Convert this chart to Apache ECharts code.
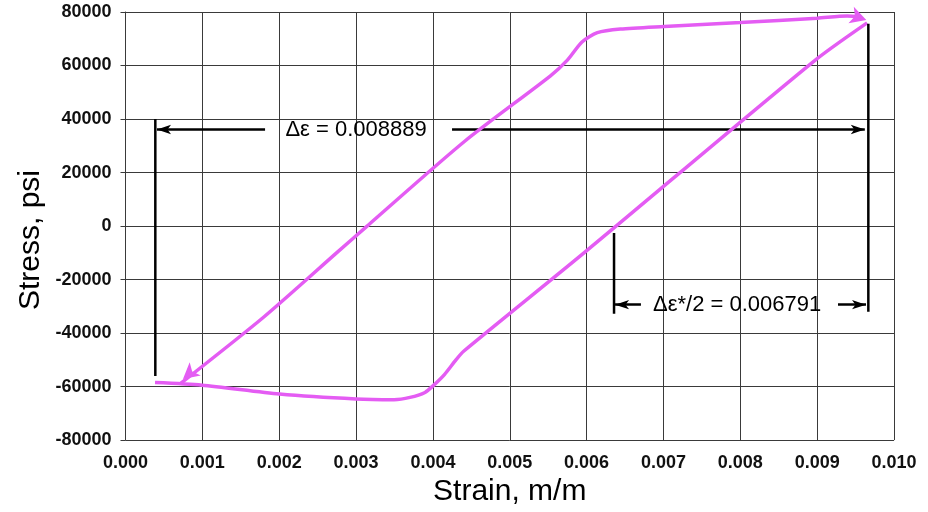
<!DOCTYPE html>
<html>
<head>
<meta charset="utf-8">
<script src="https://cdn.jsdelivr.net/npm/echarts@6/dist/echarts.min.js"></script>
<style>html,body{margin:0;padding:0;background:#fff}#c{width:928px;height:512px}</style>
</head>
<body>
<div id="c"></div>
<script>
// Loading branch: elastic line A + upper plateau
var strainUp = [0.00071, 0.00180, 0.00275, 0.00314, 0.00441, 0.00553, 0.00575, 0.00594, 0.00614, 0.00644, 0.00701, 0.00800, 0.00900, 0.00939, 0.00957];
var stressUp = [-59000, -34000, -9950, -100, 31600, 56150, 62000, 68800, 72260, 73620, 74580, 76050, 77680, 78520, 78270];
// Lower plateau + elastic line B
var strainDown = [0.000384, 0.000995, 0.002004, 0.003000, 0.003494, 0.003702, 0.003897, 0.004001, 0.00415, 0.00430, 0.00440, 0.00597, 0.00896, 0.00965];
var stressDown = [-58500, -59470, -62780, -64630, -64880, -64040, -62190, -59720, -55500, -50000, -46800, -9950, 61680, 75950];
// Arrow heads on curve
var arrowStrain = [0.000748, 0.00964];
var arrowStress = [-57200, 77050];
var arrowRotate = [130, -108];
// Annotation
var v1Strain = 0.000388, v1Stress = [40000, -56000];
var v2Strain = 0.009666, v2Stress = [75570, -32070];
var v3Strain = 0.006357, v3Stress = [-2580, -32800];
var h1Stress = 36100, h1Left = [0.001816, 0.000410], h1Right = [0.004249, 0.009620];
var h2Stress = -29380, h2Left = [0.006707, 0.006370], h2Right = [0.009271, 0.009636];
var label1 = 'Δε = 0.008889', label1Strain = 0.00300;
var label2 = 'Δε*/2 = 0.006791', label2Strain = 0.007958;
var xTicks = {min: 0, max: 0.010, step: 0.001};
var yTicks = {min: -80000, max: 80000, step: 20000};

function pts(xs, ys) { return xs.map(function (x, i) { return [x, ys[i]]; }); }
var magenta = '#e45cf3';
var black = '#000';
var gridColor = '#3a3a3a';

var chart = echarts.init(document.getElementById('c'));
chart.setOption({
  animation: false,
  grid: {left: 125.5, top: 12, right: 34, bottom: 66},
  xAxis: {
    type: 'value', min: xTicks.min, max: xTicks.max, interval: xTicks.step,
    name: 'Strain, m/m', nameLocation: 'middle', nameGap: 33,
    nameTextStyle: {fontFamily: 'Liberation Sans', fontSize: 30, color: '#000'},
    axisLine: {show: true, lineStyle: {color: gridColor, width: 1}},
    axisTick: {show: true, length: 5, lineStyle: {color: gridColor}},
    axisLabel: {fontFamily: 'Liberation Sans', fontWeight: 'bold', fontSize: 18, color: '#111', margin: 14,
      formatter: function (v) { return v.toFixed(3); }},
    splitLine: {show: true, lineStyle: {color: gridColor, width: 1}}
  },
  yAxis: {
    type: 'value', min: yTicks.min, max: yTicks.max, interval: yTicks.step,
    axisLine: {show: true, lineStyle: {color: gridColor, width: 1}},
    axisTick: {show: true, length: 5, lineStyle: {color: gridColor}},
    axisLabel: {fontFamily: 'Liberation Sans', fontWeight: 'bold', fontSize: 18, color: '#111', margin: 14,
      formatter: function (v) { return String(v); }},
    splitLine: {show: true, lineStyle: {color: gridColor, width: 1}}
  },
  graphic: [{
    type: 'text', x: 31, y: 240, rotation: Math.PI / 2,
    style: {text: 'Stress, psi', font: '30px "Liberation Sans"', fill: '#000', textAlign: 'center', textVerticalAlign: 'middle'}
  }],
  series: [
    {type: 'line', data: pts(strainUp, stressUp), showSymbol: false, smooth: 0.25,
      lineStyle: {color: magenta, width: 3.5}, z: 5},
    {type: 'line', data: pts(strainDown, stressDown), showSymbol: false, smooth: 0.25,
      lineStyle: {color: magenta, width: 3.5}, z: 5},
    {type: 'scatter', z: 6,
      data: arrowStrain.map(function (x, i) { return {value: [x, arrowStress[i]], symbolRotate: arrowRotate[i]}; }),
      symbol: 'arrow', symbolSize: [13, 16], itemStyle: {color: magenta, opacity: 1}},
    {type: 'line', z: 7, showSymbol: false, lineStyle: {color: black, width: 2.5},
      data: [[v1Strain, v1Stress[0]], [v1Strain, v1Stress[1]]]},
    {type: 'line', z: 7, showSymbol: false, lineStyle: {color: black, width: 2.5},
      data: [[v2Strain, v2Stress[0]], [v2Strain, v2Stress[1]]]},
    {type: 'line', z: 7, showSymbol: false, lineStyle: {color: black, width: 2.5},
      data: [[v3Strain, v3Stress[0]], [v3Strain, v3Stress[1]]]},
    {type: 'scatter', z: 8, symbolSize: 0, data: [],
      markLine: {silent: true, symbol: ['none', 'arrow'], symbolSize: [7, 14],
        lineStyle: {color: black, width: 2.5, type: 'solid'}, label: {show: false},
        data: [
          [{coord: [h1Left[0], h1Stress]}, {coord: [h1Left[1], h1Stress]}],
          [{coord: [h1Right[0], h1Stress]}, {coord: [h1Right[1], h1Stress]}],
          [{coord: [h2Left[0], h2Stress]}, {coord: [h2Left[1], h2Stress]}],
          [{coord: [h2Right[0], h2Stress]}, {coord: [h2Right[1], h2Stress]}]
        ]}},
    {type: 'scatter', z: 9, symbolSize: 1, itemStyle: {color: 'rgba(255,255,255,0)', opacity: 1},
      data: [{value: [label1Strain, h1Stress], name: label1}, {value: [label2Strain, h2Stress], name: label2}],
      label: {show: true, position: 'inside', formatter: '{b}', fontFamily: 'Liberation Sans', fontSize: 22, color: '#000', opacity: 1}}
  ]
});
</script>
</body>
</html>
